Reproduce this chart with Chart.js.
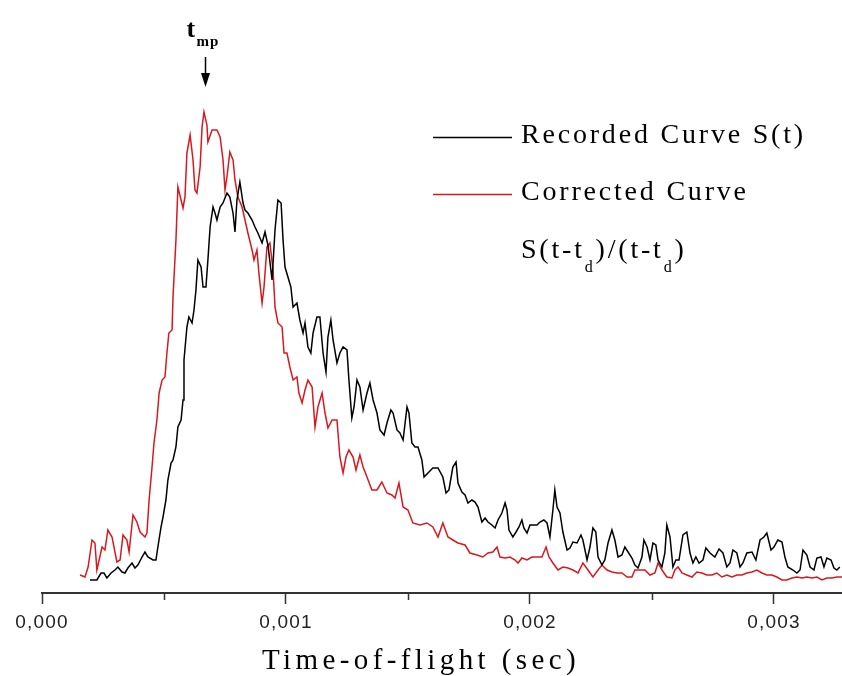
<!DOCTYPE html>
<html>
<head>
<meta charset="utf-8">
<title>Time-of-flight</title>
<script src="https://cdn.jsdelivr.net/npm/chart.js@4.4.1/dist/chart.umd.min.js"></script>
<style>
	html, body { margin: 0; padding: 0; background: #fff; }
	#box { position: relative; width: 842px; height: 676px; }
</style>
</head>
<body>
<div id="box"><canvas id="tofChart"></canvas></div>
<script>
// recorded curve S(t), time in seconds
const blackTime = [
	0.000197, 0.000225, 0.000242, 0.000254, 0.000266, 0.000283, 0.000299, 0.000311, 0.000328, 0.000340,
	0.000352, 0.000369, 0.000381, 0.000393, 0.000410, 0.000422, 0.000434, 0.000455, 0.000467, 0.000475,
	0.000488, 0.000496, 0.000508, 0.000516, 0.000529, 0.000537, 0.000549, 0.000557, 0.000570, 0.000578,
	0.000582, 0.000594, 0.000602, 0.000615, 0.000623, 0.000631, 0.000639, 0.000652, 0.000660, 0.000672,
	0.000680, 0.000689, 0.000701, 0.000709, 0.000717, 0.000730, 0.000742, 0.000750, 0.000758, 0.000770,
	0.000783, 0.000791, 0.000799, 0.000811, 0.000824, 0.000832, 0.000844, 0.000861, 0.000873, 0.000885,
	0.000902, 0.000914, 0.000926, 0.000943, 0.000955, 0.000967, 0.000980, 0.000988, 0.000996, 0.001008,
	0.001020, 0.001029, 0.001045, 0.001057, 0.001070, 0.001078, 0.001090, 0.001102, 0.001111, 0.001127,
	0.001139, 0.001152, 0.001164, 0.001172, 0.001184, 0.001193, 0.001209, 0.001221, 0.001234, 0.001250,
	0.001258, 0.001270, 0.001279, 0.001291, 0.001303, 0.001316, 0.001332, 0.001344, 0.001357, 0.001373,
	0.001385, 0.001402, 0.001414, 0.001430, 0.001439, 0.001455, 0.001467, 0.001480, 0.001496, 0.001504,
	0.001516, 0.001529, 0.001541, 0.001557, 0.001566, 0.001582, 0.001602, 0.001623, 0.001643, 0.001656,
	0.001668, 0.001684, 0.001697, 0.001705, 0.001721, 0.001734, 0.001746, 0.001762, 0.001775, 0.001787,
	0.001803, 0.001816, 0.001828, 0.001844, 0.001857, 0.001869, 0.001885, 0.001898, 0.001906, 0.001914,
	0.001930, 0.001943, 0.001955, 0.001967, 0.001975, 0.001988, 0.002000, 0.002012, 0.002029, 0.002041,
	0.002057, 0.002070, 0.002082, 0.002094, 0.002102, 0.002111, 0.002123, 0.002135, 0.002152, 0.002164,
	0.002176, 0.002193, 0.002209, 0.002217, 0.002234, 0.002246, 0.002258, 0.002270, 0.002279, 0.002295,
	0.002307, 0.002320, 0.002336, 0.002348, 0.002361, 0.002377, 0.002389, 0.002402, 0.002418, 0.002430,
	0.002443, 0.002459, 0.002467, 0.002480, 0.002492, 0.002504, 0.002516, 0.002525, 0.002541, 0.002553,
	0.002561, 0.002574, 0.002586, 0.002598, 0.002611, 0.002627, 0.002643, 0.002656, 0.002668, 0.002680,
	0.002693, 0.002709, 0.002721, 0.002738, 0.002758, 0.002775, 0.002791, 0.002807, 0.002820, 0.002832,
	0.002848, 0.002861, 0.002873, 0.002889, 0.002910, 0.002926, 0.002943, 0.002959, 0.002971, 0.002988,
	0.003000, 0.003016, 0.003033, 0.003045, 0.003057, 0.003078, 0.003094, 0.003107, 0.003119, 0.003135,
	0.003148, 0.003164, 0.003176, 0.003193, 0.003205, 0.003217, 0.003234, 0.003246, 0.003258, 0.003270
];
const blackSignal = [
	0, 0, 7, 7, 2, 7, 10, 13, 8, 7,
	12, 17, 12, 15, 23, 28, 23, 20, 20, 33,
	53, 63, 80, 100, 117, 120, 133, 153, 160, 180,
	220, 253, 263, 257, 270, 290, 320, 313, 293, 293,
	320, 353, 373, 367, 360, 373, 377, 382, 387, 383,
	367, 348, 380, 398, 377, 370, 367, 360, 353, 347,
	337, 348, 335, 300, 350, 380, 377, 340, 313, 303,
	293, 273, 277, 260, 247, 257, 233, 227, 247, 263,
	263, 227, 208, 243, 260, 240, 217, 227, 233, 230,
	200, 162, 173, 200, 193, 170, 187, 197, 180, 167,
	150, 145, 157, 170, 167, 150, 147, 140, 173, 167,
	137, 133, 133, 120, 103, 107, 112, 112, 103, 87,
	90, 113, 118, 97, 88, 85, 77, 80, 78, 73,
	58, 62, 58, 55, 52, 60, 67, 77, 70, 50,
	43, 48, 53, 60, 52, 47, 55, 55, 55, 58,
	60, 57, 43, 70, 90, 73, 67, 48, 30, 32,
	38, 37, 45, 40, 20, 33, 52, 48, 23, 15,
	20, 37, 50, 40, 23, 25, 33, 28, 22, 15,
	12, 23, 40, 33, 20, 37, 35, 20, 13, 27,
	55, 43, 13, 20, 20, 45, 48, 27, 17, 23,
	17, 20, 32, 27, 23, 31, 27, 13, 17, 30,
	27, 13, 17, 27, 28, 20, 40, 43, 47, 30,
	33, 40, 38, 23, 13, 10, 7, 10, 30, 25,
	13, 10, 22, 23, 13, 22, 20, 12, 10, 13
];

// corrected curve S(t-td)/(t-td)
const redTime = [
	0.000156, 0.000176, 0.000189, 0.000205, 0.000217, 0.000225, 0.000246, 0.000258, 0.000270, 0.000287,
	0.000307, 0.000320, 0.000332, 0.000348, 0.000357, 0.000373, 0.000389, 0.000402, 0.000422, 0.000430,
	0.000439, 0.000451, 0.000459, 0.000471, 0.000480, 0.000492, 0.000504, 0.000512, 0.000520, 0.000533,
	0.000537, 0.000549, 0.000557, 0.000570, 0.000578, 0.000586, 0.000594, 0.000607, 0.000619, 0.000627,
	0.000635, 0.000648, 0.000656, 0.000664, 0.000676, 0.000680, 0.000697, 0.000717, 0.000730, 0.000742,
	0.000750, 0.000758, 0.000770, 0.000783, 0.000791, 0.000803, 0.000820, 0.000832, 0.000844, 0.000861,
	0.000869, 0.000881, 0.000889, 0.000902, 0.000910, 0.000922, 0.000934, 0.000947, 0.000955, 0.000967,
	0.000984, 0.000992, 0.001004, 0.001016, 0.001029, 0.001045, 0.001053, 0.001066, 0.001078, 0.001090,
	0.001107, 0.001119, 0.001131, 0.001148, 0.001160, 0.001172, 0.001189, 0.001209, 0.001221, 0.001234,
	0.001246, 0.001258, 0.001275, 0.001287, 0.001303, 0.001316, 0.001332, 0.001352, 0.001373, 0.001393,
	0.001414, 0.001434, 0.001447, 0.001463, 0.001480, 0.001500, 0.001520, 0.001549, 0.001578, 0.001602,
	0.001623, 0.001643, 0.001664, 0.001684, 0.001705, 0.001734, 0.001754, 0.001783, 0.001807, 0.001828,
	0.001848, 0.001865, 0.001877, 0.001898, 0.001918, 0.001939, 0.001951, 0.001967, 0.001988, 0.002008,
	0.002029, 0.002049, 0.002066, 0.002078, 0.002094, 0.002115, 0.002135, 0.002156, 0.002176, 0.002197,
	0.002217, 0.002238, 0.002258, 0.002279, 0.002295, 0.002316, 0.002336, 0.002357, 0.002377, 0.002398,
	0.002418, 0.002430, 0.002451, 0.002471, 0.002492, 0.002512, 0.002525, 0.002541, 0.002561, 0.002582,
	0.002594, 0.002607, 0.002623, 0.002643, 0.002664, 0.002684, 0.002705, 0.002725, 0.002746, 0.002766,
	0.002787, 0.002807, 0.002828, 0.002848, 0.002869, 0.002889, 0.002910, 0.002930, 0.002951, 0.002971,
	0.002992, 0.003012, 0.003033, 0.003053, 0.003074, 0.003094, 0.003115, 0.003135, 0.003156, 0.003176,
	0.003197, 0.003217, 0.003238, 0.003258, 0.003279
];
const redSignal = [
	5, 3, 13, 40, 37, 10, 33, 30, 50, 43,
	18, 20, 45, 40, 28, 65, 58, 48, 43, 47,
	80, 113, 137, 160, 187, 200, 203, 227, 247, 250,
	283, 340, 393, 380, 372, 383, 427, 445, 420, 390,
	387, 413, 453, 468, 455, 438, 450, 450, 443, 420,
	390, 403, 428, 420, 400, 383, 373, 360, 347, 330,
	320, 330, 307, 277, 293, 333, 337, 310, 273, 257,
	253, 227, 227, 213, 200, 203, 187, 177, 190, 200,
	193, 153, 173, 187, 167, 152, 160, 160, 123, 107,
	123, 130, 123, 110, 125, 113, 103, 90, 90, 98,
	87, 85, 82, 97, 73, 70, 57, 55, 57, 53,
	43, 57, 43, 40, 37, 35, 27, 25, 23, 27,
	28, 33, 23, 22, 23, 20, 17, 22, 20, 23,
	23, 23, 33, 23, 17, 10, 13, 12, 10, 7,
	17, 10, 3, 10, 15, 10, 8, 7, 7, 3,
	3, 10, 10, 10, 5, 7, 17, 10, 3, 2,
	10, 13, 7, 5, 3, 8, 7, 5, 5, 7,
	3, 5, 3, 5, 5, 7, 8, 10, 7, 5,
	5, 3, 0, 0, 2, 3, 2, 3, 2, 3,
	0, 2, 2, 3, 3
];

const xMin = 0;
const xMax = 0.003279;
const majorStep = 0.001;
const minorStep = 0.0005;
const tMostProbable = 0.000672;

const serif = "'Liberation Serif', 'Times New Roman', serif";
const sans = "'Liberation Sans', Arial, sans-serif";

function toPoints(times, values) {
	return times.map((t, i) => ({ x: t, y: values[i] }));
}

function isMajor(v) {
	return Math.abs(v / majorStep - Math.round(v / majorStep)) < 1e-6;
}

// spaced lettering like the original: wide for the title (drawn first),
// tighter for the tick labels (ticks.z 1, drawn after the datasets)
const spacing = {
	id: 'spacing',
	beforeLayout(chart) { chart.ctx.letterSpacing = '1.2px'; },
	beforeDraw(chart) { chart.ctx.letterSpacing = '4.4px'; },
	afterDatasetsDraw(chart) { chart.ctx.letterSpacing = '1.2px'; },
};

const annotations = {
	id: 'annotations',
	afterDraw(chart) {
		const ctx = chart.ctx;
		const x = chart.scales.x;
		ctx.save();

		// minor ticks
		ctx.strokeStyle = '#333';
		ctx.lineWidth = 1.5;
		for (let v = minorStep; v < xMax; v += majorStep) {
			const px = Math.round(x.getPixelForValue(v)) + 0.5;
			ctx.beginPath();
			ctx.moveTo(px, x.top);
			ctx.lineTo(px, x.top + 7);
			ctx.stroke();
		}

		// legend
		ctx.lineWidth = 1.3;
		ctx.strokeStyle = '#000';
		ctx.beginPath();
		ctx.moveTo(433, 137.5);
		ctx.lineTo(512, 137.5);
		ctx.stroke();
		ctx.strokeStyle = '#d7191f';
		ctx.beginPath();
		ctx.moveTo(433, 194.5);
		ctx.lineTo(512, 194.5);
		ctx.stroke();

		ctx.fillStyle = '#000';
		ctx.textBaseline = 'alphabetic';
		ctx.textAlign = 'left';
		ctx.letterSpacing = '2.8px';
		ctx.font = '28px ' + serif;
		ctx.fillText('Recorded Curve S(t)', 521, 143);
		ctx.fillText('Corrected Curve', 521, 200);

		let cx = 521;
		const parts = [['S(t-t', false], ['d', true], [')/(t-t', false], ['d', true], [')', false]];
		parts.forEach(([txt, sub]) => {
			ctx.font = (sub ? '16px ' : '28px ') + serif;
			ctx.fillText(txt, cx, sub ? 272 : 258);
			cx += ctx.measureText(txt).width;
		});

		// t_mp marker
		const ax = Math.round(x.getPixelForValue(tMostProbable)) - 0.5;
		ctx.letterSpacing = '0px';
		ctx.font = 'bold 26px ' + serif;
		ctx.fillText('t', ax - 19, 37);
		ctx.font = 'bold 15px ' + serif;
		ctx.letterSpacing = '1px';
		ctx.fillText('mp', ax - 9, 46);

		ctx.strokeStyle = '#000';
		ctx.lineWidth = 1.5;
		ctx.beginPath();
		ctx.moveTo(ax, 57);
		ctx.lineTo(ax, 76);
		ctx.stroke();
		ctx.beginPath();
		ctx.moveTo(ax - 4.5, 73);
		ctx.lineTo(ax + 4.5, 73);
		ctx.lineTo(ax, 87);
		ctx.closePath();
		ctx.fill();

		ctx.restore();
	},
};

const config = {
	type: 'line',
	data: {
		datasets: [
			{
				label: 'Recorded Curve S(t)',
				data: toPoints(blackTime, blackSignal),
				borderColor: '#000',
				borderWidth: 1.5,
				pointRadius: 0,
				tension: 0,
				fill: false,
			},
			{
				label: 'Corrected Curve S(t-td)/(t-td)',
				data: toPoints(redTime, redSignal),
				borderColor: '#d7191f',
				borderWidth: 1.5,
				pointRadius: 0,
				tension: 0,
				fill: false,
			},
		],
	},
	options: {
		responsive: true,
		maintainAspectRatio: false,
		animation: false,
		layout: {
			padding: { left: 0, right: 0, top: 40, bottom: 0 },
		},
		plugins: {
			legend: { display: false },
			tooltip: { enabled: false },
			title: {
				display: true,
				position: 'bottom',
				text: 'Time-of-flight (sec)',
				color: '#000',
				font: { family: serif, size: 29, weight: 'normal', lineHeight: 0.8 },
				padding: { top: 8, bottom: 2.8 },
			},
		},
		scales: {
			x: {
				type: 'linear',
				min: xMin,
				max: xMax,
				border: { display: true, color: '#333', width: 2 },
				grid: {
					drawOnChartArea: false,
					drawTicks: true,
					tickLength: 11,
					tickWidth: 1.5,
					tickColor: ctx => (ctx.tick && isMajor(ctx.tick.value) ? '#333' : 'rgba(0,0,0,0)'),
				},
				ticks: {
					z: 1,
					stepSize: minorStep,
					includeBounds: false,
					autoSkip: false,
					maxRotation: 0,
					padding: 9.5,
					color: '#222',
					font: { family: sans, size: 19, lineHeight: 1 },
					callback: v => (isMajor(v) ? v.toFixed(3).replace('.', ',') : ''),
				},
			},
			y: {
				// hidden axis, only keeps a 42px left margin
				min: -13,
				max: 540,
				border: { display: false },
				grid: { display: false },
				ticks: { display: false },
				afterFit: scale => { scale.width = 42; },
			},
		},
	},
	plugins: [spacing, annotations],
};

new Chart(document.getElementById('tofChart'), config);
</script>
</body>
</html>
